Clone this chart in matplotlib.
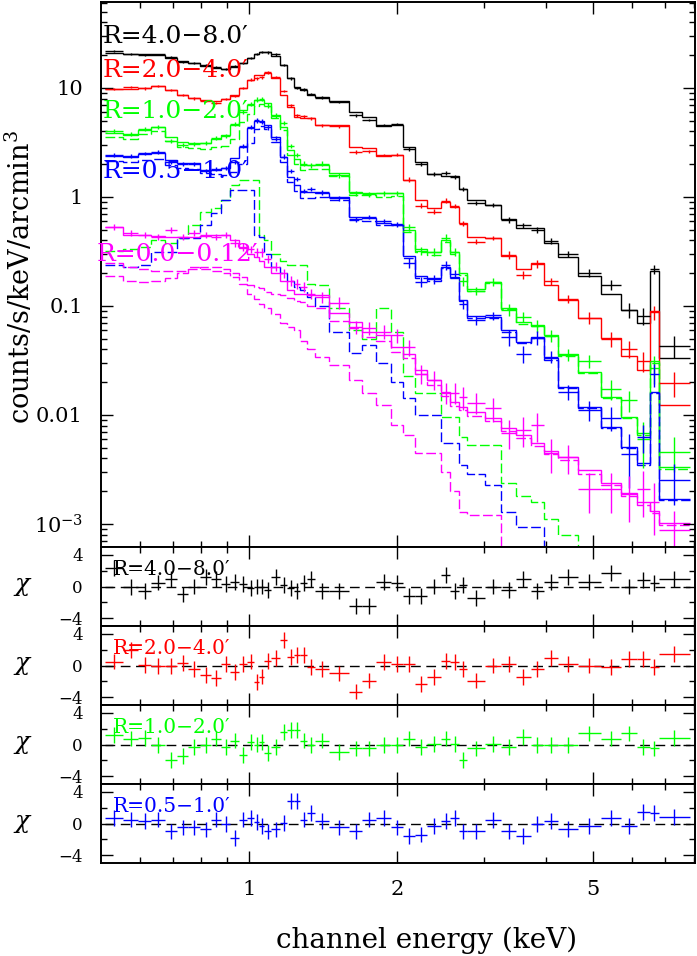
import numpy as np
import matplotlib
matplotlib.use('Agg')
import matplotlib.pyplot as plt
from matplotlib.ticker import FixedLocator, FixedFormatter, NullFormatter

plt.rcParams['font.family'] = ['DejaVu Serif', 'DejaVu Sans']
plt.rcParams['mathtext.fontset'] = 'dejavuserif'

# ---------------- data ----------------
edges = [0.510, 0.554, 0.595, 0.632, 0.675, 0.714, 0.751, 0.795, 0.837, 0.877, 0.915, 0.954, 0.991,
         1.024, 1.048, 1.073, 1.108, 1.156, 1.195, 1.235, 1.270, 1.312, 1.362, 1.454, 1.597, 1.697, 1.813, 1.944,
         2.057, 2.176, 2.301, 2.458, 2.564, 2.674, 2.776, 3.020, 3.254, 3.491, 3.729, 3.981, 4.231, 4.646,
         5.174, 5.682, 6.124, 6.509, 6.789, 7.852]

labels = ["R=4.0\u22128.0\u2032", "R=2.0\u22124.0\u2032", "R=1.0\u22122.0\u2032", "R=0.5\u22121.0\u2032", "R=0.0\u22120.12\u2032"]
colors = ["#000000", "#ff0000", "#00ff00", "#0000ff", "#ff00ff"]

model_black = [20.9, 20.7, 20.5, 20.1, 18.9, 17.7, 16.9, 15.9, 15.2, 14.9, 15.6, 16.9, 18.9, 20.5, 21.4, 21.4,
               19.7, 16.2, 12.3, 10.2, 9.6, 8.6, 8.3, 7.6, 6.0, 5.4, 4.5, 4.6, 2.87, 2.09, 1.63, 1.56, 1.56,
               1.18, 0.94, 0.84, 0.63, 0.52, 0.52, 0.38, 0.28, 0.19, 0.13, 0.092, 0.070, 0.21, 0.033]
model_red = [9.7, 9.8, 9.9, 10.4, 9.6, 8.6, 8.1, 7.8, 7.6, 7.9, 8.6, 10.0, 11.8, 13.1, 13.1, 13.7, 12.3, 8.6,
             6.7, 5.4, 5.3, 5.3, 4.6, 4.6, 2.87, 2.8, 2.4, 2.43, 1.43, 0.94, 0.79, 0.90, 0.81, 0.58, 0.43,
             0.42, 0.29, 0.22, 0.25, 0.156, 0.114, 0.078, 0.051, 0.035, 0.026, 0.090, 0.0123]
model_green = [3.86, 3.7, 4.1, 4.4, 3.55, 3.2, 3.1, 3.15, 3.4, 3.7, 4.6, 6.3, 7.0, 7.8, 7.8, 7.3, 5.65, 4.4,
               2.7, 2.23, 1.97, 1.97, 1.97, 1.66, 1.11, 1.09, 1.09, 1.09, 0.50, 0.33, 0.31, 0.40, 0.31, 0.20,
               0.143, 0.166, 0.096, 0.071, 0.067, 0.054, 0.036, 0.025, 0.0146, 0.0096, 0.0068, 0.031, 0.0033]
model_blue = [2.38, 2.33, 2.48, 2.53, 2.18, 2.05, 2.05, 1.77, 1.77, 1.84, 2.28, 2.87, 4.3, 5.0, 5.0, 4.6, 3.55,
              2.33, 1.53, 1.29, 1.11, 1.11, 1.09, 1.0, 0.66, 0.64, 0.58, 0.57, 0.29, 0.19, 0.18, 0.23, 0.185,
              0.114, 0.081, 0.079, 0.060, 0.047, 0.052, 0.033, 0.018, 0.0119, 0.0078, 0.0051, 0.0036, 0.0163, 0.0017]
model_mag = [0.53, 0.45, 0.45, 0.44, 0.43, 0.43, 0.43, 0.44, 0.45, 0.45, 0.40, 0.34, 0.30, 0.28, 0.26, 0.23,
             0.20, 0.17, 0.14, 0.13, 0.13, 0.126, 0.125, 0.086, 0.071, 0.058, 0.054, 0.042, 0.036, 0.026, 0.021,
             0.0163, 0.0131, 0.0119, 0.0106, 0.0094, 0.0076, 0.0065, 0.0055, 0.0047, 0.0041, 0.0031, 0.0024,
             0.00192, 0.00158, 0.00131, 0.00102]

# dashed model components
comp_green_main = [3.55, 3.4, 3.75, 4.0, 3.25, 2.9, 2.8, 2.75, 2.85, 2.95, 3.4, 4.9, 5.8, 6.9, 7.2, 6.9, 5.35,
                   4.15, 2.45, 2.0, 1.75, 1.8, 1.8, 1.56, 1.05, 1.04, 0.99, 1.03, 0.475, 0.313, 0.294, 0.39,
                   0.30, 0.194, 0.138, 0.161, 0.094, 0.069, 0.065, 0.053, 0.035, 0.0245, 0.0143, 0.0094,
                   0.0066, 0.030, 0.0032]
comp_green_soft = [0.32, 0.33, 0.35, 0.40, 0.38, 0.42, 0.55, 0.73, 0.8, 0.94, 1.29, 1.43, 1.43, 1.43, 0.45, 0.40,
                   0.30, 0.26, 0.24, 0.24, 0.24, 0.16, 0.155, 0.096, 0.06, 0.05, 0.096, 0.058, 0.023, 0.016,
                   0.016, 0.0096, 0.0096, 0.0063, 0.0053, 0.0053, 0.0024, 0.0018, 0.0016, 0.0011, 0.0008,
                   0.0005, 0.0003, 0.0003, 0.0003, 0.0003, 0.0003]
comp_blue_main = [2.15, 2.1, 2.2, 2.25, 1.95, 1.85, 1.8, 1.65, 1.62, 1.6, 1.7, 2.0, 3.1, 4.2, 4.5, 4.2, 3.2,
                  2.1, 1.36, 1.13, 0.97, 0.98, 0.99, 0.94, 0.62, 0.60, 0.55, 0.55, 0.275, 0.18, 0.17, 0.225,
                  0.18, 0.11, 0.078, 0.077, 0.058, 0.046, 0.051, 0.032, 0.0175, 0.0116, 0.0076, 0.005,
                  0.0035, 0.016, 0.00165]
comp_blue_soft = [0.24, 0.23, 0.24, 0.31, 0.31, 0.42, 0.42, 0.55, 0.71, 0.94, 1.16, 1.16, 1.16, 0.45, 0.43,
                  0.3, 0.23, 0.2, 0.17, 0.15, 0.14, 0.12, 0.1, 0.058, 0.037, 0.044, 0.03, 0.02, 0.0143,
                  0.0100, 0.0100, 0.0055, 0.0055, 0.0035, 0.0029, 0.0023, 0.0013, 0.00094, 0.00094, 0.0006,
                  0.0003, 0.0003, 0.0003, 0.0003, 0.0003, 0.0003, 0.0003]
comp_mag_hard = [0.25, 0.23, 0.22, 0.21, 0.21, 0.21, 0.22, 0.23, 0.23, 0.22, 0.20, 0.185, 0.155, 0.15, 0.145,
                 0.135, 0.13, 0.125, 0.118, 0.11, 0.108, 0.10, 0.095, 0.073, 0.063, 0.052, 0.048, 0.038,
                 0.033, 0.024, 0.019, 0.015, 0.012, 0.011, 0.0098, 0.0088, 0.0071, 0.0061, 0.0052, 0.0044,
                 0.0039, 0.0029, 0.0023, 0.0018, 0.0015, 0.00125, 0.00097]
comp_mag_soft = [0.19, 0.17, 0.166, 0.17, 0.18, 0.2, 0.23, 0.22, 0.21, 0.2, 0.185, 0.16, 0.13, 0.115, 0.105,
                 0.095, 0.085, 0.07, 0.064, 0.06, 0.048, 0.04, 0.034, 0.029, 0.021, 0.016, 0.0123, 0.0081,
                 0.0065, 0.0045, 0.0045, 0.003, 0.002, 0.0013, 0.0012, 0.0012, 0.0004, 0.0003, 0.0003,
                 0.0003, 0.0003, 0.0003, 0.0003, 0.0003, 0.0003, 0.0003, 0.0003]

# residuals (chi)
chi_black = [2.3, -0.1, -0.6, 0.5, 0.9, -1.0, 0.0, 1.2, 1.0, 0.3, 0.6, 0.3, -0.2, 0.0, 0.0, -0.4, 1.2, 0.2,
             -0.2, -0.6, 0.4, 1.0, -0.6, -0.6, -2.5, -2.5, 0.6, 0.4, -1.2, -1.2, 0.0, 1.5, -0.6, 0.2, -1.5,
             0.0, -0.4, 1.0, -0.6, 0.6, 1.2, 0.6, 1.7, 0.0, 0.8, 0.4, 1.0]
chi_red = [0.5, 2.0, 0.1, -0.1, -0.1, 0.3, -0.4, -1.2, -1.6, 0.2, -0.8, 0.2, 0.5, -2.1, -1.4, 0.6, 0.9, 3.2,
           1.1, 1.3, 1.3, -0.2, -0.4, -1.0, -3.3, -1.9, 0.4, 0.2, 0.2, -2.3, -1.5, 0.6, 0.4, -0.4, -1.9, 0.0,
           0.2, -1.5, -0.4, 1.0, 0.2, 0.0, -0.2, 0.8, 0.8, -0.2, 1.5]
chi_green = [1.2, 0.75, 0.8, -0.1, -2.0, -1.5, -0.3, -0.1, 0.75, -0.3, 0.5, -1.3, 0.3, 0.0, 0.3, -1.1, -0.3,
             1.6, 1.8, 1.8, 0.5, -0.1, 0.5, -0.9, -0.5, -0.5, -0.1, -0.1, 0.75, -0.3, 0.1, 0.75, 0.1, -2.0,
             -0.5, 0.1, -0.3, 1.0, -0.1, -0.1, -0.1, 1.4, 0.75, 1.4, -0.3, -0.5, 0.8]
chi_blue = [0.7, 0.5, 0.3, 0.5, -1.0, -0.5, -0.5, -0.75, 0.5, -0.1, -1.8, 0.5, 0.7, 0.2, -0.3, -1.0, -0.75,
            0.1, 2.8, 2.8, 0.5, 1.3, 0.3, -0.5, -1.0, 0.5, 0.7, -0.5, -1.6, -1.4, -0.3, 0.3, 0.7, -1.0,
            -1.0, 0.4, -1.0, -1.6, -0.1, 0.3, -0.7, -0.3, 0.7, -0.3, 1.5, 1.3, 0.8]

# fractional 1-sigma errors of the data points
err_black = [0.02, 0.02, 0.02, 0.02, 0.02, 0.02, 0.02, 0.02, 0.02, 0.02, 0.02, 0.02, 0.02,
             0.025, 0.025, 0.025, 0.025, 0.025, 0.025, 0.025, 0.025, 0.025, 0.025, 0.025, 0.025, 0.025, 0.025, 0.025,
             0.04, 0.04, 0.04, 0.04, 0.04, 0.04, 0.04, 0.04, 0.06, 0.06, 0.06, 0.06, 0.06,
             0.09, 0.12, 0.15, 0.2, 0.1, 0.3]
err_red = [0.025, 0.025, 0.025, 0.025, 0.025, 0.025, 0.025, 0.025, 0.025, 0.025, 0.025, 0.025, 0.025,
           0.03, 0.03, 0.03, 0.03, 0.03, 0.03, 0.03, 0.03, 0.03, 0.03, 0.03, 0.03, 0.03, 0.03, 0.03,
           0.05, 0.05, 0.05, 0.05, 0.05, 0.05, 0.05, 0.05, 0.08, 0.08, 0.08, 0.08, 0.08,
           0.12, 0.15, 0.2, 0.25, 0.15, 0.4]
err_green = [0.04, 0.04, 0.04, 0.04, 0.04, 0.04, 0.04, 0.04, 0.04, 0.04, 0.04, 0.04, 0.04,
             0.05, 0.05, 0.05, 0.05, 0.05, 0.05, 0.05, 0.05, 0.05, 0.05, 0.05, 0.05, 0.05, 0.05, 0.05,
             0.08, 0.08, 0.08, 0.08, 0.08, 0.08, 0.08, 0.08, 0.12, 0.12, 0.12, 0.12, 0.12,
             0.18, 0.25, 0.3, 0.4, 0.25, 0.5]
err_blue = [0.04, 0.04, 0.04, 0.04, 0.04, 0.04, 0.04, 0.04, 0.04, 0.04, 0.04, 0.04, 0.04,
            0.05, 0.05, 0.05, 0.05, 0.05, 0.05, 0.05, 0.05, 0.05, 0.05, 0.05, 0.05, 0.05, 0.05, 0.05,
            0.09, 0.09, 0.09, 0.09, 0.09, 0.09, 0.09, 0.09, 0.14, 0.14, 0.14, 0.14, 0.14,
            0.2, 0.3, 0.45, 0.5, 0.35, 0.6]

data_mag = [0.53, 0.47, 0.45, 0.43, 0.50, 0.43, 0.47, 0.45, 0.43, 0.45, 0.38, 0.35, 0.33, 0.31, 0.31, 0.27,
            0.23, 0.20, 0.17, 0.16, 0.15, 0.13, 0.12, 0.107, 0.064, 0.063, 0.058, 0.054, 0.042, 0.024, 0.021,
            0.016, 0.016, 0.0146, 0.013, 0.0115, 0.0069, 0.0073, 0.0081, 0.0045, 0.0041, 0.0021, 0.0021,
            0.0019, 0.0021, 0.0016, 0.00088]
err_mag = [0.07, 0.07, 0.07, 0.07, 0.07, 0.07, 0.07, 0.07, 0.07, 0.07, 0.08, 0.08, 0.08, 0.09, 0.09, 0.09,
           0.09, 0.1, 0.1, 0.1, 0.11, 0.11, 0.11, 0.12, 0.14, 0.14, 0.15, 0.15, 0.17, 0.2, 0.2, 0.22, 0.22,
           0.24, 0.22, 0.25, 0.3, 0.3, 0.3, 0.35, 0.3, 0.4, 0.4, 0.45, 0.45, 0.5, 0.5]

# ---------------- figure ----------------
W, H = 697, 956
fig = plt.figure(figsize=(W / 100, H / 100), dpi=100)

def fx(px):
    return px / W

def fy(py):
    return 1 - py / H

left, right = 101, 695
main_top, main_bot = 2, 547
panel_h = 79

ax = fig.add_axes([fx(left), fy(main_bot), fx(right) - fx(left), (main_bot - main_top) / H])
res_axes = []
for i in range(4):
    top = main_bot + i * panel_h
    r = fig.add_axes([fx(left), fy(top + panel_h), fx(right) - fx(left), panel_h / H], sharex=ax)
    res_axes.append(r)

E = np.array(edges)
lo = E[:-1]
hi = E[1:]
cen = np.sqrt(lo * hi)
xerr = [cen - lo, hi - cen]

LW = 1.0
DASH = (0, (7, 2.5))

models = [model_black, model_red, model_green, model_blue]
chis = [chi_black, chi_red, chi_green, chi_blue]
errs = [err_black, err_red, err_green, err_blue]

for m, c, e, col in zip(models, chis, errs, colors[:4]):
    m = np.array(m)
    sig = np.array(e) * m
    d = m + np.array(c) * sig
    ax.stairs(m, E, color=col, lw=LW, baseline=None)
    ax.errorbar(cen, d, xerr=xerr, yerr=[np.minimum(sig, d * 0.95), sig], fmt='none',
                ecolor=col, elinewidth=LW, capsize=0)

for comp, col in [(comp_green_main, colors[2]), (comp_green_soft, colors[2]),
                  (comp_blue_main, colors[3]), (comp_blue_soft, colors[3])]:
    ax.stairs(comp, E, color=col, lw=LW, baseline=None, linestyle=DASH)

m = np.array(model_mag)
dm = np.array(data_mag)
sm = np.array(err_mag) * dm
ax.stairs(m, E, color=colors[4], lw=LW, baseline=None)
for comp in (comp_mag_hard, comp_mag_soft):
    ax.stairs(comp, E, color=colors[4], lw=LW, baseline=None, linestyle=DASH)
ax.errorbar(cen, dm, xerr=xerr, yerr=[np.minimum(sm, dm * 0.95), sm], fmt='none',
            ecolor=colors[4], elinewidth=LW, capsize=0)

ax.set_xscale('log')
ax.set_yscale('log')
ax.set_xlim(0.5, 8.05)
ax.set_ylim(6.15e-4, 61.5)

ax.yaxis.set_major_locator(FixedLocator([1e-3, 1e-2, 1e-1, 1, 10]))
ax.yaxis.set_major_formatter(FixedFormatter(['$10^{-3}$', '0.01', '0.1', '1', '10']))
ymin_ticks = [k * 10.0 ** p for p in range(-4, 2) for k in range(2, 10)]
ax.yaxis.set_minor_locator(FixedLocator(ymin_ticks))
ax.yaxis.set_minor_formatter(NullFormatter())

xmaj = [1, 2, 5]
xmin = [0.6, 0.7, 0.8, 0.9, 3, 4, 6, 7, 8]

for a in [ax] + res_axes:
    a.xaxis.set_major_locator(FixedLocator(xmaj))
    a.xaxis.set_minor_locator(FixedLocator(xmin))
    a.tick_params(which='both', direction='in', top=True, right=True, width=1.0, labelsize=15)
    a.tick_params(which='major', length=8.5)
    a.tick_params(which='minor', length=4)
    a.tick_params(axis='y', pad=13)
    for s in a.spines.values():
        s.set_linewidth(1.4)

ax.tick_params(axis='x', labelbottom=False)
fig.text(fx(20), fy(277), 'counts/s/keV/arcmin$^3$', fontsize=19.5, rotation=90,
         ha='center', va='center')

label_pos = [(0.0034, 0.9358), (0.0034, 0.8752), (0.0034, 0.7982), (0.0034, 0.6899), (-0.0067, 0.5358)]
for (x, y), t, col in zip(label_pos, labels, colors):
    ax.text(x, y, t, transform=ax.transAxes, color=col, fontsize=18, ha='left', va='center')

for i, r in enumerate(res_axes):
    col = colors[i]
    r.set_ylim(-5, 5)
    r.yaxis.set_major_locator(FixedLocator([-4, 0, 4]))
    r.yaxis.set_major_formatter(FixedFormatter(['\u22124', '0', '4']))
    r.yaxis.set_minor_locator(FixedLocator([-2, 2]))
    r.tick_params(axis='y', labelsize=12)
    r.stairs(np.zeros(len(cen)), E, color='k', lw=LW, baseline=None, linestyle=(0, (7, 4)))
    r.errorbar(cen, chis[i], xerr=xerr, yerr=1.0, fmt='none', ecolor=col, elinewidth=LW, capsize=0)
    r.text(0.02, 0.71, labels[i], transform=r.transAxes, color=col, fontsize=14.5, ha='left', va='center')
    r.text(-0.131, 0.5, '$\\chi$', transform=r.transAxes, fontsize=18, ha='center', va='center')
    if i < 3:
        r.tick_params(axis='x', labelbottom=False)
    else:
        r.xaxis.set_major_formatter(FixedFormatter(['1', '2', '5']))
        r.xaxis.set_minor_formatter(NullFormatter())
        r.tick_params(axis='x', pad=12)

ax.set_xlim(0.5, 8.05)
fig.text(fx(427), fy(940), 'channel energy (keV)', fontsize=20, ha='center', va='center')

fig.savefig('out.png', dpi=100)
